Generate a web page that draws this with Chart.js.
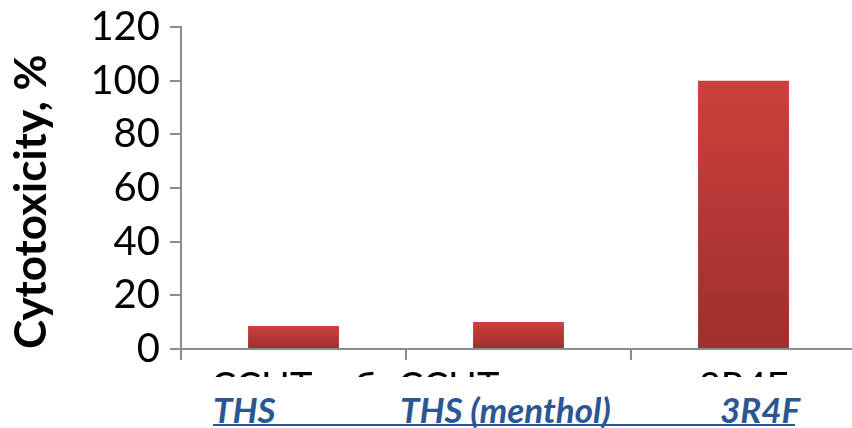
<!DOCTYPE html>
<html>
<head>
<meta charset="utf-8">
<script src="https://cdn.jsdelivr.net/npm/chart.js@4.4.1/dist/chart.umd.min.js"></script>
<style>
  html, body { margin: 0; padding: 0; background: #fff; overflow: hidden; }
  #wrap { position: relative; width: 860px; height: 428px; }
  #cover { position: absolute; left: 0; top: 377px; width: 860px; height: 51px; background: #fff; }
  .lbl { position: absolute; top: 388px; font: italic bold 35px Lato, sans-serif; color: #2b5694; white-space: nowrap; }
  #uline { position: absolute; left: 213px; top: 424px; width: 582px; height: 2px; background: #2b5694; }
</style>
</head>
<body>
<div id="wrap">
  <canvas id="chart" width="860" height="428"></canvas>
  <div id="cover"></div>
  <span class="lbl" style="left:213px">THS</span>
  <span class="lbl" style="left:400px">THS (menthol)</span>
  <span class="lbl" style="left:720px">3R4F</span>
  <div id="uline"></div>
</div>
<script>
// data
const categories = ['ССНТ – б', 'ССНТ ментол', '3R4F'];
const cytotoxicity = [8.6, 10.1, 100];
const yTicks = [0, 20, 40, 60, 80, 100, 120];

const axisGrey = '#8c8c8c';

// each bar gets its own top-to-bottom gradient
function barFill(context) {
  const chart = context.chart;
  const y = chart.scales.y;
  if (!chart.chartArea || !y || typeof context.raw !== 'number') return '#c43a37';
  const top = y.getPixelForValue(context.raw);
  const bottom = y.getPixelForValue(0);
  if (!isFinite(top) || !isFinite(bottom)) return '#c43a37';
  const g = chart.ctx.createLinearGradient(0, top, 0, bottom);
  g.addColorStop(0, '#cd403c');
  g.addColorStop(1, '#9d2f2d');
  return g;
}

new Chart(document.getElementById('chart'), {
  type: 'bar',
  data: {
    labels: categories,
    datasets: [{
      label: 'Cytotoxicity, %',
      data: cytotoxicity,
      backgroundColor: barFill,
      borderWidth: 0,
      categoryPercentage: 1,
      barPercentage: 0.404
    }]
  },
  options: {
    responsive: false,
    animation: false,
    layout: { padding: { top: 27, right: 4, left: 0, bottom: 0 } },
    plugins: { legend: { display: false }, tooltip: { enabled: false } },
    scales: {
      x: {
        grid: { offset: true, drawOnChartArea: false, tickLength: 11, color: axisGrey, lineWidth: 2 },
        border: { color: axisGrey, width: 2 },
        ticks: { color: '#000', font: { family: 'Lato', size: 38 }, padding: 5, maxRotation: 0, autoSkip: false },
        afterFit: s => { s.height = 79; s.paddingLeft = 0; s.paddingRight = 0; }
      },
      y: {
        min: 0,
        max: 120,
        afterBuildTicks: s => { s.ticks = yTicks.map(v => ({ value: v })); },
        grid: { drawOnChartArea: false, tickLength: 11, color: axisGrey, lineWidth: 2 },
        border: { color: axisGrey, width: 2 },
        ticks: { color: '#000', font: { family: 'Lato', size: 40 }, padding: 10 },
        title: {
          display: true,
          text: 'Cytotoxicity, %',
          align: 'start',
          color: '#000',
          font: { family: 'Lato', size: 44, weight: 'bold' },
          padding: { top: 5, bottom: 0 }
        },
        afterFit: s => { s.width = 181; s.paddingTop = 0; s.paddingBottom = 0; }
      }
    }
  }
});
</script>
</body>
</html>
